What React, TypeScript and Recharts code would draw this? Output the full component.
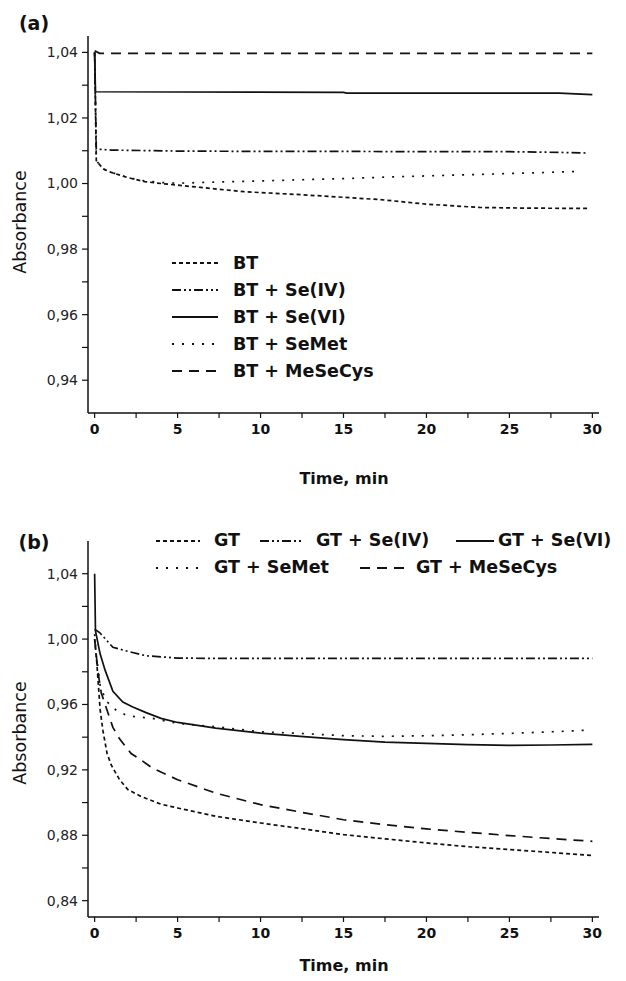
import { Legend, Line, LineChart, XAxis, YAxis } from "recharts";

const FONT = '"DejaVu Sans", Verdana, sans-serif';
const INK = "#111111";

// x ticks, shared by both panels (labels every 5 min, minor every 2.5)
const X_TICKS = [0, 2.5, 5, 7.5, 10, 12.5, 15, 17.5, 20, 22.5, 25, 27.5, 30];

// ---- panel (a): black tea ----
const Y_TICKS_A = [0.94, 0.95, 0.96, 0.97, 0.98, 0.99, 1.0, 1.01, 1.02, 1.03, 1.04];

const BT_T = [0, 0.1, 0.5, 1, 2, 3, 4, 5, 6.4, 9, 12.4, 15, 17.2, 18.4, 20, 23.2, 26, 29.7];
const BT_A = [1.04, 1.007, 1.0045, 1.0034, 1.0018, 1.0006, 1.0, 0.9995, 0.9988, 0.9975, 0.9966, 0.9958, 0.9951, 0.9945, 0.9937, 0.9927, 0.9925, 0.9924];

const BT_SE4_T = [0, 0.1, 1, 5, 10, 15, 20, 25, 28, 29.7];
const BT_SE4_A = [1.04, 1.0105, 1.0102, 1.0099, 1.0098, 1.0098, 1.0097, 1.0097, 1.0095, 1.0093];

const BT_SE6_T = [0, 0.05, 15, 15.2, 28, 30];
const BT_SE6_A = [1.04, 1.028, 1.0278, 1.0276, 1.0276, 1.0271];

const BT_SEMET_T = [0, 0.1, 0.5, 1, 2, 3, 4, 5, 6.4, 10, 15, 18.4, 22, 26, 29.3];
const BT_SEMET_A = [1.04, 1.007, 1.0045, 1.0034, 1.0018, 1.0008, 1.0003, 1.0001, 1.0003, 1.0008, 1.0015, 1.0021, 1.0026, 1.0032, 1.0037];

const BT_MESECYS_T = [0, 0.3, 30];
const BT_MESECYS_A = [1.0405, 1.0397, 1.0397];

// ---- panel (b): green tea ----
const Y_TICKS_B = [0.84, 0.86, 0.88, 0.9, 0.92, 0.94, 0.96, 0.98, 1.0, 1.02, 1.04];

const GT_T = [0, 0.12, 0.33, 0.5, 0.75, 1, 1.5, 2, 2.8, 4, 5, 7.3, 10, 12.5, 15, 17.5, 20, 22.5, 25, 27.5, 30];
const GT_A = [1.0, 0.987, 0.957, 0.944, 0.93, 0.923, 0.914, 0.908, 0.9037, 0.899, 0.8967, 0.8916, 0.8875, 0.884, 0.8804, 0.8778, 0.8753, 0.873, 0.8713, 0.8695, 0.8676];

const GT_SE4_T = [0, 0.3, 1.1, 2, 3.1, 5, 7, 10, 30];
const GT_SE4_A = [1.006, 1.004, 0.995, 0.9925, 0.9898, 0.9884, 0.9882, 0.9882, 0.9882];

const GT_SE6_T = [0, 0.05, 0.33, 0.63, 1.1, 1.7, 2.3, 3.1, 4, 5, 7.3, 10, 12.4, 15, 17.5, 20, 22.5, 25, 27.5, 30];
const GT_SE6_A = [1.04, 1.005, 0.991, 0.981, 0.968, 0.9615, 0.9585, 0.955, 0.9515, 0.949, 0.9455, 0.9425, 0.9405, 0.9385, 0.937, 0.9362, 0.9355, 0.935, 0.9352, 0.9356];

const GT_SEMET_T = [0, 0.1, 0.34, 0.7, 1.3, 2, 3.5, 5, 7.3, 10, 12.4, 15, 17.5, 20, 22.5, 25, 27.5, 29.8];
const GT_SEMET_A = [1.003, 0.99, 0.971, 0.962, 0.9565, 0.953, 0.9515, 0.9484, 0.9464, 0.9433, 0.9423, 0.9409, 0.9405, 0.9409, 0.9415, 0.9423, 0.9433, 0.9443];

const GT_MESECYS_T = [0, 0.2, 0.4, 0.8, 1.1, 1.5, 2.2, 2.8, 3.5, 5, 7.3, 10, 12.5, 15, 17.5, 20, 22.5, 25, 27.5, 30];
const GT_MESECYS_A = [1.0, 0.98, 0.967, 0.955, 0.946, 0.939, 0.93, 0.926, 0.921, 0.914, 0.9058, 0.8987, 0.894, 0.8895, 0.8865, 0.8839, 0.8818, 0.8798, 0.878, 0.8763];

const DASH = {
  short: "4 3",
  dashDot: "9 3 2 3 2 3",
  solid: "",
  dotted: "2 8",
  long: "10 7"
};

type Pt = { t: number; v: number };
const zip = (ts: number[], vs: number[]): Pt[] => ts.map((t, i) => ({ t, v: vs[i] }));

type Series = { name: string; dash: string; data: Pt[] };

const SERIES_A: Series[] = [
  { name: "BT", dash: DASH.short, data: zip(BT_T, BT_A) },
  { name: "BT + Se(IV)", dash: DASH.dashDot, data: zip(BT_SE4_T, BT_SE4_A) },
  { name: "BT + Se(VI)", dash: DASH.solid, data: zip(BT_SE6_T, BT_SE6_A) },
  { name: "BT + SeMet", dash: DASH.dotted, data: zip(BT_SEMET_T, BT_SEMET_A) },
  { name: "BT + MeSeCys", dash: DASH.long, data: zip(BT_MESECYS_T, BT_MESECYS_A) }
];

const SERIES_B: Series[] = [
  { name: "GT", dash: DASH.short, data: zip(GT_T, GT_A) },
  { name: "GT + Se(IV)", dash: DASH.dashDot, data: zip(GT_SE4_T, GT_SE4_A) },
  { name: "GT + Se(VI)", dash: DASH.solid, data: zip(GT_SE6_T, GT_SE6_A) },
  { name: "GT + SeMet", dash: DASH.dotted, data: zip(GT_SEMET_T, GT_SEMET_A) },
  { name: "GT + MeSeCys", dash: DASH.long, data: zip(GT_MESECYS_T, GT_MESECYS_A) }
];

const comma = (v: number) => v.toFixed(2).replace(".", ",");
const xFmt = (v: number) => (v % 5 === 0 ? String(v) : "");

const legendText: React.CSSProperties = {
  fontFamily: FONT,
  fontWeight: "bold",
  fontSize: 17.5,
  color: INK,
  whiteSpace: "nowrap",
  lineHeight: "20px"
};

function Swatch({ dash, width = 46 }: { dash: string; width?: number }) {
  return (
    <svg width={width} height={10} style={{ display: "block" }}>
      <line x1={0} y1={5} x2={width} y2={5} stroke={INK} strokeWidth={2} strokeDasharray={dash || undefined} />
    </svg>
  );
}

function LegendA() {
  return (
    <div>
      {SERIES_A.map((s) => (
        <div key={s.name} style={{ display: "flex", alignItems: "center", height: 27 }}>
          <Swatch dash={s.dash} />
          <span style={{ ...legendText, marginLeft: 15 }}>{s.name}</span>
        </div>
      ))}
    </div>
  );
}

// swatch start / text start, relative to the legend box
const LEGEND_B_SLOTS = [
  { row: 0, sx: 0, sw: 44, tx: 58 },
  { row: 0, sx: 104, sw: 44, tx: 160 },
  { row: 0, sx: 300, sw: 38, tx: 342 },
  { row: 1, sx: 0, sw: 44, tx: 58 },
  { row: 1, sx: 204, sw: 48, tx: 260 }
];

function LegendB() {
  return (
    <div style={{ position: "relative", width: 470, height: 54 }}>
      {SERIES_B.map((s, i) => {
        const slot = LEGEND_B_SLOTS[i];
        return (
          <div key={s.name}>
            <div style={{ position: "absolute", left: slot.sx, top: slot.row * 27 + 8 }}>
              <Swatch dash={s.dash} width={slot.sw} />
            </div>
            <span style={{ ...legendText, position: "absolute", left: slot.tx, top: slot.row * 27 + 2 }}>{s.name}</span>
          </div>
        );
      })}
    </div>
  );
}

function Panel({
  series,
  yTicks,
  yDomain,
  majorStep,
  height,
  marginTop,
  marginBottom,
  legend,
  legendPos
}: {
  series: Series[];
  yTicks: number[];
  yDomain: [number, number];
  majorStep: number;
  height: number;
  marginTop: number;
  marginBottom: number;
  legend: React.ReactElement;
  legendPos: React.CSSProperties;
}) {
  return (
    <LineChart width={626} height={height} margin={{ top: marginTop, right: 27, left: 0, bottom: marginBottom }}>
      <XAxis
        type="number"
        dataKey="t"
        domain={[-0.4, 30.4]}
        allowDataOverflow
        ticks={X_TICKS}
        tickFormatter={xFmt}
        interval={0}
        height={30}
        tickSize={5}
        tickMargin={6}
        axisLine={{ stroke: INK, strokeWidth: 1.5 }}
        tickLine={{ stroke: INK, strokeWidth: 1.2 }}
        tick={{ fontFamily: FONT, fontSize: 14, fontWeight: "bold", fill: INK }}
      />
      <YAxis
        type="number"
        dataKey="v"
        domain={yDomain}
        allowDataOverflow
        ticks={yTicks}
        interval={0}
        tickFormatter={(v: number) => (Math.round(v * 100) % majorStep === 0 ? comma(v) : "")}
        width={88}
        tickSize={6}
        tickMargin={4}
        axisLine={{ stroke: INK, strokeWidth: 1.5 }}
        tickLine={{ stroke: INK, strokeWidth: 1.2 }}
        tick={{ fontFamily: FONT, fontSize: 14, fill: "#222" }}
      />
      {/* vertical + centred + middle keeps the legend from eating plot space */}
      <Legend
        layout="vertical"
        align="center"
        verticalAlign="middle"
        content={() => legend}
        wrapperStyle={{ position: "absolute", width: "auto", ...legendPos }}
      />
      {series.map((s) => (
        <Line
          key={s.name}
          data={s.data}
          dataKey="v"
          name={s.name}
          type="linear"
          stroke={INK}
          strokeWidth={1.7}
          strokeDasharray={s.dash || undefined}
          dot={false}
          activeDot={false}
          isAnimationActive={false}
        />
      ))}
    </LineChart>
  );
}

const titleStyle: React.CSSProperties = {
  position: "absolute",
  fontFamily: FONT,
  color: INK,
  whiteSpace: "nowrap",
  transform: "translate(-50%, -50%)"
};

export default function App() {
  return (
    <div style={{ position: "absolute", left: 0, top: 0, width: 626, height: 981, background: "#fff" }}>
      <div style={{ position: "absolute", left: 0, top: 0 }}>
        <Panel
          series={SERIES_A}
          yTicks={Y_TICKS_A}
          yDomain={[0.93, 1.045]}
          majorStep={2}
          height={490}
          marginTop={36}
          marginBottom={47}
          legend={<LegendA />}
          legendPos={{ left: 172, top: 249 }}
        />
      </div>
      <div style={{ position: "absolute", left: 0, top: 490 }}>
        <Panel
          series={SERIES_B}
          yTicks={Y_TICKS_B}
          yDomain={[0.83, 1.06]}
          majorStep={4}
          height={491}
          marginTop={51}
          marginBottom={34}
          legend={<LegendB />}
          legendPos={{ left: 156, top: 38 }}
        />
      </div>

      <div style={{ ...titleStyle, left: 34, top: 23, fontSize: 19, fontWeight: "bold" }}>(a)</div>
      <div style={{ ...titleStyle, left: 34, top: 542, fontSize: 19, fontWeight: "bold" }}>(b)</div>

      <div style={{ ...titleStyle, left: 20, top: 222, fontSize: 17.5, transform: "translate(-50%, -50%) rotate(-90deg)" }}>Absorbance</div>
      <div style={{ ...titleStyle, left: 20, top: 733, fontSize: 17.5, transform: "translate(-50%, -50%) rotate(-90deg)" }}>Absorbance</div>

      <div style={{ ...titleStyle, left: 344, top: 478, fontSize: 16, fontWeight: "bold" }}>Time, min</div>
      <div style={{ ...titleStyle, left: 344, top: 965, fontSize: 16, fontWeight: "bold" }}>Time, min</div>
    </div>
  );
}
